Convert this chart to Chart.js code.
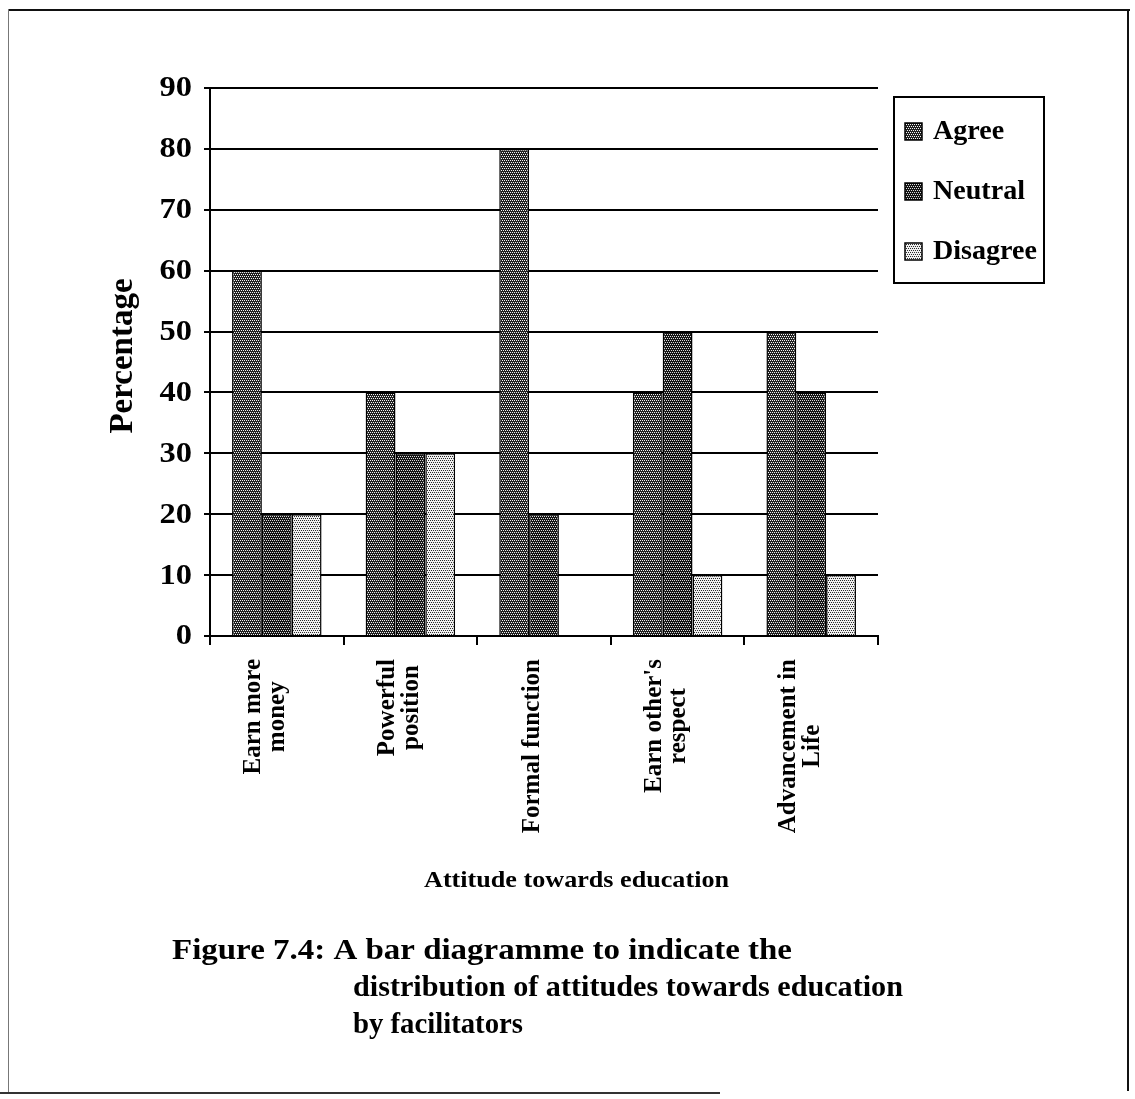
<!DOCTYPE html>
<html>
<head>
<meta charset="utf-8">
<script src="https://cdn.jsdelivr.net/npm/chart.js@4.4.1/dist/chart.umd.min.js"></script>
<style>
  html, body { margin: 0; padding: 0; background: #fff; }
  #wrap { position: relative; width: 1135px; height: 1099px; overflow: hidden; background: #fff; }
  #c { position: absolute; left: 0; top: 0; }
  .ln { position: absolute; background: #111; }
</style>
</head>
<body>
<div id="wrap">
  <div class="ln" style="left:8px; top:9px; width:1122px; height:2px;"></div>
  <div class="ln" style="left:8px; top:9px; width:1px; height:1084px; background:#777;"></div>
  <div class="ln" style="left:1127px; top:9px; width:2px; height:1082px;"></div>
  <div class="ln" style="left:0px; top:1092px; width:720px; height:2px; background:#333;"></div>
  <canvas id="c" width="1135" height="1099"></canvas>
</div>
<script>
// ---- data ----
const categories = [["Earn more", "money"], ["Powerful", "position"], ["Formal function"], ["Earn other's", "respect"], ["Advancement in", "Life"]];
const seriesNames = ["Agree", "Neutral", "Disagree"];
const agree    = [60, 40, 80, 40, 50];
const neutral  = [20, 30, 20, 50, 40];
const disagree = [20, 30, 0, 10, 10];
const yTicks = [0, 10, 20, 30, 40, 50, 60, 70, 80, 90];
const yTitle = "Percentage";
const xTitle = "Attitude towards education";
const captionLines = ["Figure 7.4: A bar diagramme to indicate the", "distribution of attitudes towards education", "by facilitators"];

// ---- patterns ----
function makePattern(bg, fg, pts, size) {
  const c = document.createElement('canvas');
  c.width = size; c.height = size;
  const x = c.getContext('2d');
  x.fillStyle = bg; x.fillRect(0, 0, size, size);
  x.fillStyle = fg;
  pts.forEach(([a, b]) => x.fillRect(a, b, 1, 1));
  return x.createPattern(c, 'repeat');
}
const dots = [[0,0],[2,0],[1,2],[3,2]];
const pAgree = makePattern('#202020', '#f4f4f4', dots, 4);
const pNeutral = makePattern('#141414', '#dcdcdc', dots, 4);
const pDisagree = makePattern('#f0f0f0', '#2a2a2a', dots, 4);
const patterns = [pAgree, pNeutral, pDisagree];

const SERIF = '"Liberation Serif", "Times New Roman", serif';

// draw text stretched along its own direction to a target length
function fitText(ctx, text, x, y, target, align) {
  const w = ctx.measureText(text).width;
  const k = target ? target / w : 1;
  ctx.save();
  ctx.translate(x, y);
  ctx.scale(k, 1);
  ctx.textAlign = align || 'left';
  ctx.fillText(text, 0, 0);
  ctx.restore();
}

const decor = {
  id: 'decor',
  afterDraw(chart) {
    const ctx = chart.ctx;
    const xs = chart.scales.x, ys = chart.scales.y;
    ctx.save();
    ctx.fillStyle = '#000';
    // y tick labels
    ctx.font = 'bold 29px ' + SERIF;
    ctx.textBaseline = 'middle';
    yTicks.forEach(v => {
      const t = String(v);
      const w = ctx.measureText(t).width * 1.12;
      fitText(ctx, t, 192 - w, ys.getPixelForValue(v) + 1, w, 'left');
    });
    // category labels (rotated, lines centred)
    ctx.font = 'bold 25px ' + SERIF;
    categories.forEach((lines, i) => {
      const cx = xs.getPixelForValue(i) - 11;
      const maxW = Math.max(...lines.map(l => ctx.measureText(l).width));
      const cy = chart.chartArea.bottom + 23 + maxW / 2;
      const lh = 24;
      lines.forEach((l, j) => {
        const off = (j - (lines.length - 1) / 2) * lh;
        ctx.save();
        ctx.translate(cx + off, cy);
        ctx.rotate(-Math.PI / 2);
        ctx.textAlign = 'center';
        ctx.textBaseline = 'middle';
        ctx.fillText(l, 0, 0);
        ctx.restore();
      });
    });
    // y title
    ctx.save();
    ctx.font = 'bold 33px ' + SERIF;
    ctx.translate(123, 356);
    ctx.rotate(-Math.PI / 2);
    ctx.textAlign = 'center';
    ctx.textBaseline = 'middle';
    ctx.fillText(yTitle, 0, 0);
    ctx.restore();
    // x title
    ctx.font = 'bold 24px ' + SERIF;
    ctx.textBaseline = 'alphabetic';
    fitText(ctx, xTitle, 424, 887, 305, 'left');
    // legend
    const lx = 894, ly = 97, lw = 150, lhh = 186;
    ctx.lineWidth = 2;
    ctx.strokeStyle = '#000';
    ctx.strokeRect(lx, ly, lw, lhh);
    ctx.font = 'bold 27px ' + SERIF;
    ctx.textAlign = 'left';
    ctx.textBaseline = 'middle';
    seriesNames.forEach((n, i) => {
      const yy = 131 + i * 60;
      ctx.fillStyle = patterns[i];
      ctx.fillRect(905, yy - 8, 17, 17);
      ctx.lineWidth = 1.5;
      ctx.strokeRect(905, yy - 8, 17, 17);
      ctx.fillStyle = '#000';
      fitText(ctx, n, 933, yy + 1, ctx.measureText(n).width * 1.04, 'left');
    });
    // caption
    ctx.font = 'bold 30px ' + SERIF;
    ctx.textBaseline = 'alphabetic';
    fitText(ctx, captionLines[0], 172, 959, 620, 'left');
    fitText(ctx, captionLines[1], 353, 996, 550, 'left');
    fitText(ctx, captionLines[2], 353, 1033, 170, 'left');
    ctx.restore();
  }
};

new Chart(document.getElementById('c'), {
  type: 'bar',
  data: {
    labels: categories,
    datasets: [
      { label: seriesNames[0], data: agree, backgroundColor: pAgree },
      { label: seriesNames[1], data: neutral, backgroundColor: pNeutral },
      { label: seriesNames[2], data: disagree, backgroundColor: pDisagree }
    ].map(d => Object.assign(d, { borderColor: '#000', borderWidth: 1.5, categoryPercentage: 0.67, barPercentage: 1.0 }))
  },
  options: {
    responsive: false,
    animation: false,
    devicePixelRatio: 1,
    layout: { padding: { left: 0, top: 88, right: 257, bottom: 1099 - 636 - 20 } },
    plugins: { legend: { display: false }, tooltip: { enabled: false } },
    scales: {
      x: {
        offset: true,
        grid: { offset: true, drawOnChartArea: false, drawTicks: true, tickLength: 9, color: '#000', lineWidth: 2 },
        border: { display: true, color: '#000', width: 2 },
        ticks: { display: false },
        afterFit: s => { s.height = 20; }
      },
      y: {
        min: 0, max: 90,
        afterBuildTicks: s => { s.ticks = yTicks.map(v => ({ value: v })); },
        ticks: { display: false },
        grid: { color: '#000', lineWidth: 2, tickLength: 6 },
        border: { display: true, color: '#000', width: 2 },
        afterFit: s => { s.width = 210; }
      }
    }
  },
  plugins: [decor]
});
</script>
</body>
</html>
